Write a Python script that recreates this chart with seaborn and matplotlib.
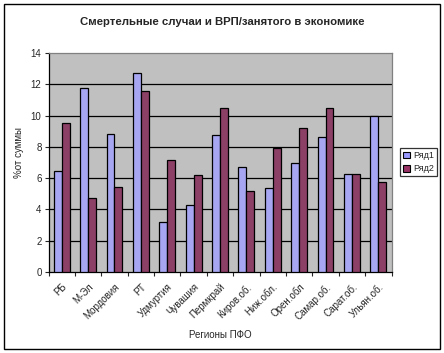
import pandas as pd
import seaborn as sns
import matplotlib.pyplot as plt
from matplotlib.patches import Rectangle, Patch

regions = ["РБ", "М-Эл", "Мордовия", "РТ", "Удмуртия", "Чувашия", "Пермкрай",
           "Киров.об.", "Ниж.обл.", "Орен.обл", "Самар.об.", "Сарат.об.", "Ульян.об."]
series1 = [6.45, 11.75, 8.8, 12.75, 3.2, 4.3, 8.75, 6.7, 5.35, 6.95, 8.6, 6.25, 9.95]
series2 = [9.5, 4.75, 5.45, 11.6, 7.15, 6.2, 10.5, 5.15, 7.9, 9.2, 10.5, 6.25, 5.75]
series_names = ["Ряд1", "Ряд2"]
colors = ["#9999FF", "#993366"]

df = pd.DataFrame({
    "region": regions * 2,
    "value": series1 + series2,
    "series": [series_names[0]] * len(regions) + [series_names[1]] * len(regions),
})

sns.set_style("white")
plt.rcParams["font.family"] = ["Liberation Sans", "DejaVu Sans"]

fig = plt.figure(figsize=(4.44, 3.53), dpi=100)
ax = fig.add_axes([48.5 / 444, 1 - 272 / 353, 343 / 444, 219 / 353])
ax.set_facecolor("#C0C0C0")

sns.barplot(data=df, x="region", y="value", hue="series", palette=colors,
            width=0.6, edgecolor="black", linewidth=0.9, legend=False, ax=ax,
            zorder=3)

ax.set_ylim(0, 14)
ax.set_xlim(-0.5, len(regions) - 0.5)
ax.set_yticks(range(0, 15, 2))
for y in range(2, 14, 2):
    ax.axhline(y, color="black", linewidth=0.9, zorder=1)

ax.tick_params(axis="y", labelsize=7, length=3, width=0.8, direction="out",
               left=True, pad=2)
ax.set_xticks(range(len(regions)))
ax.set_xticklabels(regions, rotation=45, ha="right", rotation_mode="anchor", fontsize=7)
ax.tick_params(axis="x", which="major", length=0, pad=7)
ax.set_xticks([i - 0.5 for i in range(len(regions) + 1)], minor=True)
ax.tick_params(axis="x", which="minor", length=3, width=0.8, direction="out", bottom=True)

for side in ["top", "right"]:
    ax.spines[side].set_color("#808080")
    ax.spines[side].set_linewidth(0.9)
for side in ["left", "bottom"]:
    ax.spines[side].set_color("black")
    ax.spines[side].set_linewidth(0.9)

ax.set_xlabel("Регионы ПФО", fontsize=7, labelpad=6)
ax.set_ylabel("")
fig.text(19 / 444, 1 - 152 / 353, "%от суммы", rotation=90, fontsize=7,
         ha="center", va="center")

fig.text(0.5, 1 - 22 / 353, "Смертельные случаи и ВРП/занятого в экономике",
         fontsize=8.2, fontweight="bold", ha="center", va="center")

handles = [Patch(facecolor=c, edgecolor="black", linewidth=0.8) for c in colors]
leg = fig.legend(handles, series_names, loc="upper left",
                 bbox_to_anchor=(400 / 444, 1 - 148 / 353), fontsize=6.5,
                 frameon=True, fancybox=False, handlelength=0.8, handleheight=0.8,
                 handletextpad=0.3, borderpad=0.35, labelspacing=0.45, borderaxespad=0)
leg.get_frame().set_edgecolor("black")
leg.get_frame().set_linewidth(0.9)

fig.patches.append(Rectangle((4 / 444, 4 / 353), 436 / 444, 345 / 353,
                             transform=fig.transFigure, fill=False,
                             edgecolor="black", linewidth=1))

fig.savefig("out.png", dpi=100)
